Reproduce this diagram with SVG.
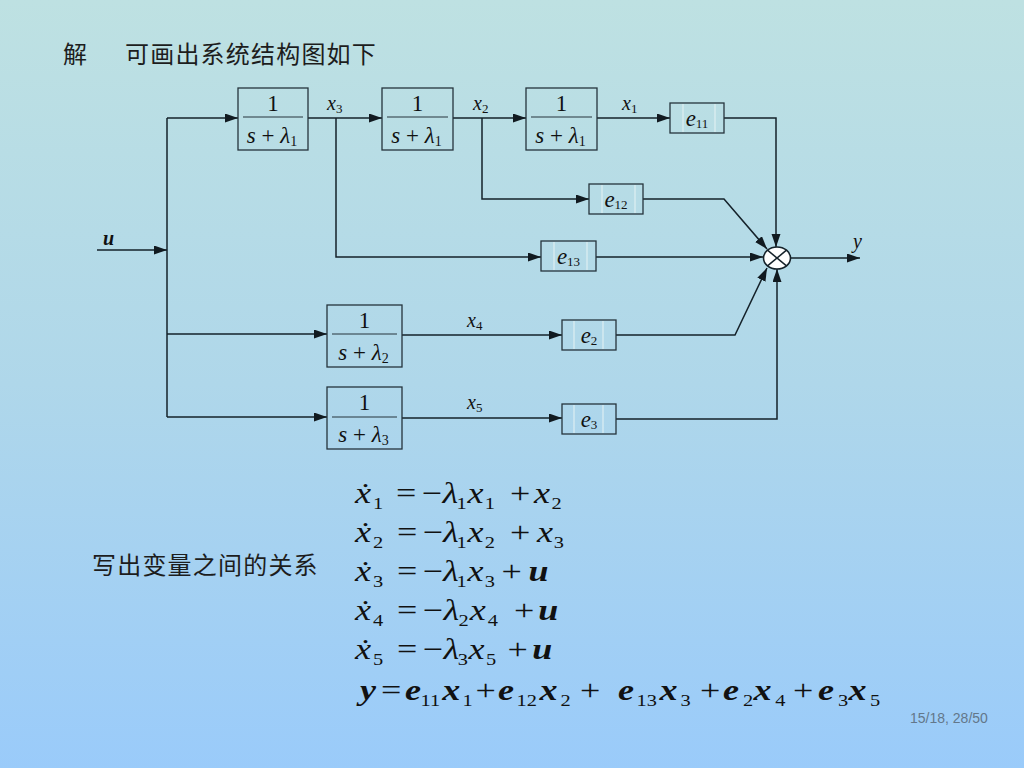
<svg xmlns="http://www.w3.org/2000/svg" width="1024" height="768" viewBox="0 0 1024 768">
<defs>
<linearGradient id="bg" x1="0" y1="0" x2="0" y2="1">
<stop offset="0" stop-color="#bee1e2"/>
<stop offset="0.5" stop-color="#afd7ea"/>
<stop offset="1" stop-color="#9acbfa"/>
</linearGradient>
<marker id="arr" markerUnits="userSpaceOnUse" markerWidth="14" markerHeight="10" refX="13" refY="4.5" orient="auto">
<path d="M0,0 L13,4.5 L0,9 z" fill="#111a20"/>
</marker>
<style>
.ln{fill:none;stroke:#15222a;stroke-width:1.5}
.box{fill:none;stroke:#26343c;stroke-width:1.3}
.inner{stroke:#e6f3f4;stroke-width:1}
.frac{stroke:#26343c;stroke-width:1}
.t{font-family:"Liberation Serif","Times New Roman",serif;fill:#111}
.bf{font-size:23px}
.bs{font-size:14px}
.i{font-style:italic}
.lab{font-family:"Liberation Serif","Times New Roman",serif;font-style:italic;font-size:20px;fill:#111}
.ls{font-size:13px;font-style:normal}
.el{font-family:"Liberation Serif","Times New Roman",serif;font-size:23px;fill:#111}
.es{font-size:13px}
.eq{font-family:"Liberation Serif","DejaVu Serif","Times New Roman",serif;font-size:30px;fill:#111}
.v{font-style:italic}
.b{font-weight:bold}
.s{font-size:17px}
.cn{font-family:"Noto Sans CJK SC","Noto Sans CJK JP",sans-serif;font-size:24px;fill:#1d1d1d;letter-spacing:1.2px}
</style>
</defs>
<rect width="1024" height="768" fill="url(#bg)"/>

<text class="cn" x="63" y="63">解</text>
<text class="cn" x="125" y="63">可画出系统结构图如下</text>

<g id="connectors">
<line class="ln" x1="97" y1="250" x2="167" y2="250" marker-end="url(#arr)"/>
<line class="ln" x1="167" y1="118" x2="167" y2="417"/>
<line class="ln" x1="167" y1="118" x2="238" y2="118" marker-end="url(#arr)"/>
<line class="ln" x1="308" y1="118" x2="382" y2="118" marker-end="url(#arr)"/>
<line class="ln" x1="453" y1="118" x2="526" y2="118" marker-end="url(#arr)"/>
<line class="ln" x1="597" y1="118" x2="670" y2="118" marker-end="url(#arr)"/>
<polyline class="ln" points="336,118 336,257 541,257" marker-end="url(#arr)"/>
<polyline class="ln" points="482,118 482,199 589,199" marker-end="url(#arr)"/>
<polyline class="ln" points="724,118 776,118 776,247" marker-end="url(#arr)"/>
<polyline class="ln" points="643,199 724,199 767,249" marker-end="url(#arr)"/>
<line class="ln" x1="596" y1="257" x2="763" y2="257" marker-end="url(#arr)"/>
<line class="ln" x1="791" y1="258" x2="860" y2="258" marker-end="url(#arr)"/>
<line class="ln" x1="167" y1="334" x2="327" y2="334" marker-end="url(#arr)"/>
<line class="ln" x1="167" y1="417" x2="327" y2="417" marker-end="url(#arr)"/>
<line class="ln" x1="402" y1="335" x2="562" y2="335" marker-end="url(#arr)"/>
<line class="ln" x1="402" y1="418" x2="562" y2="418" marker-end="url(#arr)"/>
<polyline class="ln" points="616,335 735,335 767,268" marker-end="url(#arr)"/>
<polyline class="ln" points="616,419 777,419 777,269" marker-end="url(#arr)"/>
<text class="lab b" x="103" y="245">u</text>
<text class="lab" x="327" y="110">x<tspan class="ls" dy="3">3</tspan></text>
<text class="lab" x="473" y="110">x<tspan class="ls" dy="3">2</tspan></text>
<text class="lab" x="622" y="110">x<tspan class="ls" dy="3">1</tspan></text>
<text class="lab" x="853" y="248">y</text>
<text class="lab" x="467" y="327">x<tspan class="ls" dy="3">4</tspan></text>
<text class="lab" x="467" y="409">x<tspan class="ls" dy="3">5</tspan></text>
</g>

<g id="block1">
<rect class="box" x="238" y="88" width="70" height="62"/>
<line class="frac" x1="243" y1="117" x2="303" y2="117"/>
<text class="t bf" x="273" y="111" text-anchor="middle">1</text>
<text class="t bf" x="272" y="143" text-anchor="middle"><tspan class="i">s</tspan> + <tspan class="i">λ</tspan><tspan class="bs" dy="3">1</tspan></text>
</g>
<g id="block2">
<rect class="box" x="382" y="88" width="71" height="62"/>
<line class="frac" x1="387" y1="117" x2="448" y2="117"/>
<text class="t bf" x="417.5" y="111" text-anchor="middle">1</text>
<text class="t bf" x="416.5" y="143" text-anchor="middle"><tspan class="i">s</tspan> + <tspan class="i">λ</tspan><tspan class="bs" dy="3">1</tspan></text>
</g>
<g id="block3">
<rect class="box" x="526" y="88" width="71" height="62"/>
<line class="frac" x1="531" y1="117" x2="592" y2="117"/>
<text class="t bf" x="561.5" y="111" text-anchor="middle">1</text>
<text class="t bf" x="560.5" y="143" text-anchor="middle"><tspan class="i">s</tspan> + <tspan class="i">λ</tspan><tspan class="bs" dy="3">1</tspan></text>
</g>
<g id="block4">
<rect class="box" x="327" y="305" width="75" height="62"/>
<line class="frac" x1="332" y1="334" x2="397" y2="334"/>
<text class="t bf" x="364.5" y="328" text-anchor="middle">1</text>
<text class="t bf" x="363.5" y="360" text-anchor="middle"><tspan class="i">s</tspan> + <tspan class="i">λ</tspan><tspan class="bs" dy="3">2</tspan></text>
</g>
<g id="block5">
<rect class="box" x="327" y="387" width="75" height="62"/>
<line class="frac" x1="332" y1="417" x2="397" y2="417"/>
<text class="t bf" x="364.5" y="410" text-anchor="middle">1</text>
<text class="t bf" x="363.5" y="442" text-anchor="middle"><tspan class="i">s</tspan> + <tspan class="i">λ</tspan><tspan class="bs" dy="3">3</tspan></text>
</g>

<g id="e11">
<rect class="box" x="670" y="103" width="54" height="30"/>
<line class="inner" x1="683" y1="104" x2="683" y2="132"/>
<line class="inner" x1="715" y1="104" x2="715" y2="132"/>
<text class="el" x="697" y="126" text-anchor="middle"><tspan class="i">e</tspan><tspan class="es" dy="2">11</tspan></text>
</g>
<g id="e12">
<rect class="box" x="589" y="184" width="54" height="30"/>
<line class="inner" x1="602" y1="185" x2="602" y2="213"/>
<line class="inner" x1="635" y1="185" x2="635" y2="213"/>
<text class="el" x="616" y="207" text-anchor="middle"><tspan class="i">e</tspan><tspan class="es" dy="2">12</tspan></text>
</g>
<g id="e13">
<rect class="box" x="541" y="241" width="55" height="30"/>
<line class="inner" x1="554" y1="242" x2="554" y2="270"/>
<line class="inner" x1="587" y1="242" x2="587" y2="270"/>
<text class="el" x="568.5" y="264" text-anchor="middle"><tspan class="i">e</tspan><tspan class="es" dy="2">13</tspan></text>
</g>
<g id="e2">
<rect class="box" x="562" y="320" width="54" height="30"/>
<line class="inner" x1="574" y1="321" x2="574" y2="349"/>
<line class="inner" x1="603" y1="321" x2="603" y2="349"/>
<text class="el" x="589" y="343" text-anchor="middle"><tspan class="i">e</tspan><tspan class="es" dy="2">2</tspan></text>
</g>
<g id="e3">
<rect class="box" x="562" y="404" width="54" height="30"/>
<line class="inner" x1="574" y1="405" x2="574" y2="433"/>
<line class="inner" x1="603" y1="405" x2="603" y2="433"/>
<text class="el" x="589" y="427" text-anchor="middle"><tspan class="i">e</tspan><tspan class="es" dy="2">3</tspan></text>
</g>

<g id="sum">
<ellipse cx="777" cy="258" rx="13.5" ry="11" fill="#ffffff" stroke="#15222a" stroke-width="1.6"/>
<line class="ln" x1="767.5" y1="250.2" x2="786.5" y2="265.8"/>
<line class="ln" x1="767.5" y1="265.8" x2="786.5" y2="250.2"/>
</g>

<text class="cn" x="92" y="574">写出变量之间的关系</text>

<g id="equations">
<g transform="scale(1.2 1)">
<text class="eq"><tspan class="v" x="295.8" y="503">ẋ</tspan><tspan class="s" x="310.8" y="509">1</tspan><tspan x="330" y="503">=</tspan><tspan x="351.7" y="503">−</tspan><tspan class="v" x="368.8" y="503">λ</tspan><tspan class="s" x="380.5" y="509">1</tspan><tspan class="v" x="389.5" y="503">x</tspan><tspan class="s" x="404" y="509">1</tspan><tspan x="425" y="503">+</tspan><tspan class="v" x="445" y="503">x</tspan><tspan class="s" x="459.5" y="509">2</tspan></text>
<text class="eq"><tspan class="v" x="295.8" y="542">ẋ</tspan><tspan class="s" x="310.8" y="548">2</tspan><tspan x="330.8" y="542">=</tspan><tspan x="352.5" y="542">−</tspan><tspan class="v" x="369.2" y="542">λ</tspan><tspan class="s" x="380.5" y="548">1</tspan><tspan class="v" x="389.5" y="542">x</tspan><tspan class="s" x="404" y="548">2</tspan><tspan x="425" y="542">+</tspan><tspan class="v" x="447.5" y="542">x</tspan><tspan class="s" x="461.5" y="548">3</tspan></text>
<text class="eq"><tspan class="v" x="295.8" y="581">ẋ</tspan><tspan class="s" x="310.8" y="587">3</tspan><tspan x="330.8" y="581">=</tspan><tspan x="352.5" y="581">−</tspan><tspan class="v" x="369.2" y="581">λ</tspan><tspan class="s" x="380.5" y="587">1</tspan><tspan class="v" x="389.5" y="581">x</tspan><tspan class="s" x="404" y="587">3</tspan><tspan x="418" y="581">+</tspan><tspan class="v b" x="440.5" y="581">u</tspan></text>
<text class="eq"><tspan class="v" x="295.8" y="620">ẋ</tspan><tspan class="s" x="310.8" y="626">4</tspan><tspan x="330.8" y="620">=</tspan><tspan x="352.5" y="620">−</tspan><tspan class="v" x="369.5" y="620">λ</tspan><tspan class="s" x="382" y="626">2</tspan><tspan class="v" x="391.5" y="620">x</tspan><tspan class="s" x="406.5" y="626">4</tspan><tspan x="428.3" y="620">+</tspan><tspan class="v b" x="448.5" y="620">u</tspan></text>
<text class="eq"><tspan class="v" x="295.8" y="659">ẋ</tspan><tspan class="s" x="310.8" y="665">5</tspan><tspan x="330.8" y="659">=</tspan><tspan x="352.5" y="659">−</tspan><tspan class="v" x="369.5" y="659">λ</tspan><tspan class="s" x="381.5" y="665">3</tspan><tspan class="v" x="390.5" y="659">x</tspan><tspan class="s" x="405" y="665">5</tspan><tspan x="423" y="659">+</tspan><tspan class="v b" x="443.5" y="659">u</tspan></text>
<text class="eq"><tspan class="v b" x="300" y="700">y</tspan><tspan x="317.5" y="700">=</tspan><tspan class="v b" x="337.5" y="700">e</tspan><tspan class="s" x="350.5" y="706">11</tspan><tspan class="v b" x="368.5" y="700">x</tspan><tspan class="s" x="385.5" y="706">1</tspan><tspan x="396.3" y="700">+</tspan><tspan class="v b" x="415" y="700">e</tspan><tspan class="s" x="430.5" y="706">12</tspan><tspan class="v b" x="449.5" y="700">x</tspan><tspan class="s" x="467" y="706">2</tspan><tspan x="483.3" y="700">+</tspan><tspan class="v b" x="515" y="700">e</tspan><tspan class="s" x="530.5" y="706">13</tspan><tspan class="v b" x="549.5" y="700">x</tspan><tspan class="s" x="567" y="706">3</tspan><tspan x="583.3" y="700">+</tspan><tspan class="v b" x="602.5" y="700">e</tspan><tspan class="s" x="619.2" y="706">2</tspan><tspan class="v b" x="628" y="700">x</tspan><tspan class="s" x="646" y="706">4</tspan><tspan x="660.8" y="700">+</tspan><tspan class="v b" x="681.7" y="700">e</tspan><tspan class="s" x="698.3" y="706">3</tspan><tspan class="v b" x="707" y="700">x</tspan><tspan class="s" x="725" y="706">5</tspan></text>
</g>
</g>

<text x="910" y="723" font-family="Liberation Sans, Arial, sans-serif" font-size="14" fill="#63778a">15/18, 28/50</text>
</svg>
